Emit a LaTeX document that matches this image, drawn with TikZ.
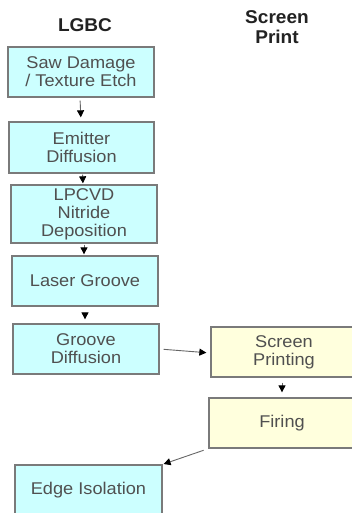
\documentclass[tikz,border=0pt]{standalone}
\usepackage{fontspec}
\setmainfont{Liberation Sans}
\newfontfamily\boxfont[FakeStretch=1.07]{Liberation Sans}
\newfontfamily\headfont[FakeStretch=1.03]{Liberation Sans}
\usetikzlibrary{arrows.meta}
\definecolor{cyanfill}{HTML}{CCFFFF}
\definecolor{yelfill}{HTML}{FFFFDD}
\definecolor{boxline}{HTML}{7A7A7A}
\definecolor{txtgrey}{HTML}{505050}
\definecolor{headtxt}{HTML}{222222}
\begin{document}
\begin{tikzpicture}[x=1pt,y=-1pt,
  stepbox/.style={draw=boxline,line width=1.3pt,minimum width=146pt,minimum height=50pt,
    align=center,inner sep=0pt,text=txtgrey,
    font=\boxfont\fontsize{17}{18}\selectfont},
  lgbcbox/.style={stepbox,fill=cyanfill},
  spbox/.style={stepbox,fill=yelfill},
  head/.style={align=center,text=headtxt,font=\headfont\fontsize{18.5}{20}\selectfont\bfseries},
  arr/.style={draw=black!60,line width=0.9pt,-{Triangle[length=7pt,width=7pt,color=black]}}]
\useasboundingbox (0,0) rectangle (352,513);
\clip (0,0) rectangle (352,513);
\fill[white] (0,0) rectangle (352,513);
\node[head] (hl) at (85,25) {LGBC};
\node[head] (hs) at (277,27) {Screen\\Print};
\node[lgbcbox] (saw) at (81,72) {Saw Damage\\/ Texture Etch};
\node[lgbcbox,minimum width=145pt,minimum height=51pt] (emit) at (81.5,147.5) {Emitter\\Diffusion};
\node[lgbcbox,minimum height=58pt] (lpcvd) at (84,214) {LPCVD\\Nitride\\Deposition};
\node[lgbcbox] (laser) at (85,281) {Laser Groove};
\node[lgbcbox] (groove) at (86,349) {Groove\\Diffusion};
\node[spbox] (screen) at (284,352) {Screen\\Printing};
\node[spbox] (firing) at (282,423) {Firing};
\node[lgbcbox,minimum width=147pt] (edge) at (88.5,490) {Edge Isolation};
\draw[arr,shorten <=3pt,shorten >=4pt] ([xshift=-1pt]saw.south) -- ([xshift=-0.5pt]emit.north);
\draw[arr,shorten <=1pt,shorten >=1pt] ([xshift=1pt]emit.south) -- ([xshift=-1pt]lpcvd.north);
\draw[arr,shorten <=1pt,shorten >=1pt] (lpcvd.south) -- ([xshift=-1pt]laser.north);
\draw[arr,shorten <=6pt,shorten >=4pt] (laser.south) -- ([xshift=-1pt]groove.north);
\draw[arr,shorten <=4pt,shorten >=4pt] (groove.east) -- ([yshift=-1pt]screen.west);
\draw[arr,shorten <=5pt,shorten >=5pt] (screen.south -| firing.north) -- (firing.north);
\draw[arr,shorten <=5pt,shorten >=1pt] (firing.south west) -- (edge.north east);
\end{tikzpicture}
\end{document}
